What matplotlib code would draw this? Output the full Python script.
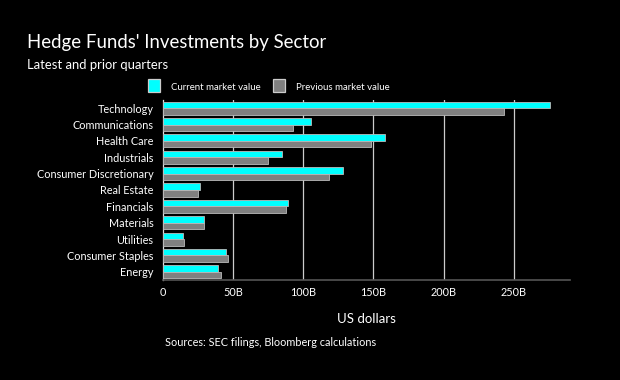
import numpy as np
import matplotlib
matplotlib.use("Agg")
import matplotlib.pyplot as plt
from matplotlib.patches import Rectangle

sectors = ["Technology", "Communications", "Health Care", "Industrials",
           "Consumer Discretionary", "Real Estate", "Financials", "Materials",
           "Utilities", "Consumer Staples", "Energy"]
current = [276, 105.5, 158.4, 84.5, 128, 26.4, 89.3, 29.1, 14, 45.2, 39.3]
previous = [243, 92.4, 148.4, 75, 118.6, 24.8, 87.9, 29.1, 15, 46.6, 41]
xticks = [0, 50, 100, 150, 200, 250]
xticklabels = ["0", "50B", "100B", "150B", "200B", "250B"]

plt.rcParams["font.family"] = ["Lato", "DejaVu Sans"]

fig = plt.figure(figsize=(6.2, 3.8), dpi=100, facecolor="black")
ax = fig.add_axes([0.263, 0.263, 0.656, 0.474], facecolor="black")

y = np.arange(len(sectors))
h = 0.40
ax.barh(y - h / 2, current, height=h, color="#00ffff", edgecolor="#bbbbbb",
        linewidth=0.6, zorder=3)
ax.barh(y + h / 2, previous, height=h, color="#808080", edgecolor="#bbbbbb",
        linewidth=0.6, zorder=3)

ax.set_ylim(10.5, -0.5)
ax.set_xlim(0, 290)
ax.set_yticks(y)
ax.set_yticklabels(sectors, color="white", fontsize=7.8)
ax.set_xticks(xticks)
ax.set_xticklabels(xticklabels, color="white", fontsize=7.8)
ax.tick_params(length=0, pad=5)
ax.tick_params(axis="y", pad=7)
for v in xticks[1:]:
    ax.axvline(v, color="#cccccc", lw=0.9, zorder=1)
for s in ["top", "right"]:
    ax.spines[s].set_visible(False)
ax.spines["left"].set_color("#dddddd")
ax.spines["left"].set_linewidth(0.9)
ax.spines["bottom"].set_color("#555555")
ax.spines["bottom"].set_linewidth(1.2)
ax.set_xlabel("US dollars", color="white", fontsize=9.5, labelpad=11)

fig.text(0.044, 1 - 48 / 380, "Hedge Funds' Investments by Sector", color="white",
         fontsize=13.4, va="baseline")
fig.text(0.044, 1 - 69 / 380, "Latest and prior quarters", color="white",
         fontsize=9.4, va="baseline")

# legend
for x0, col, lab in [(148, "#00ffff", "Current market value"),
                     (273, "#808080", "Previous market value")]:
    fig.patches.append(Rectangle((x0 / 620, 1 - 92 / 380), 12 / 620, 13 / 380,
                                 transform=fig.transFigure, facecolor=col,
                                 edgecolor="#cccccc", linewidth=0.9))
    fig.text((x0 + 23) / 620, 1 - 90 / 380, lab, color="white", fontsize=6.9,
             va="baseline")

fig.text(165 / 620, 1 - 343 / 380, "Sources: SEC filings, Bloomberg calculations",
         color="white", fontsize=7.8, va="center")

fig.savefig("out.png", dpi=100, facecolor="black")
